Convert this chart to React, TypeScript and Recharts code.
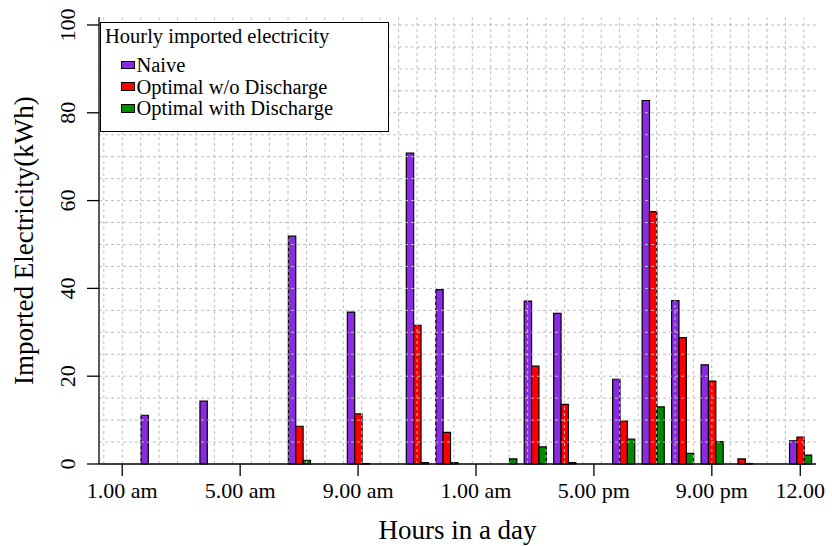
import { Bar, BarChart, Legend, ReferenceLine, XAxis, YAxis } from "recharts";

// hour of the day, 1..24
const hours = [1, 2, 3, 4, 5, 6, 7, 8, 9, 10, 11, 12, 13, 14, 15, 16, 17, 18, 19, 20, 21, 22, 23, 24];
const naive = [0, 11.1, 0, 14.3, 0, 0, 51.9, 0, 34.6, 0, 70.8, 39.7, 0, 0, 37.1, 34.3, 0, 19.3, 82.8, 37.2, 22.6, 0, 0, 5.3];
const optimalNoDischarge = [0, 0, 0, 0, 0, 0, 8.6, 0, 11.4, 0, 31.6, 7.2, 0, 0, 22.3, 13.6, 0, 9.8, 57.5, 28.8, 18.9, 1.15, 0, 6.1];
const optimalWithDischarge = [0, 0, 0, 0, 0, 0, 0.85, 0, 0.1, 0, 0.3, 0.3, 0, 1.15, 3.9, 0.3, 0, 5.7, 13.0, 2.4, 5.1, 0.1, 0, 2.0];

const seriesNames = ["Naive", "Optimal w/o Discharge", "Optimal with Discharge"];
const legendTitle = "Hourly imported electricity";
const tickHours = [1, 5, 9, 13, 17, 21, 24];
const tickLabels = ["1.00 am", "5.00 am", "9.00 am", "1.00 am", "5.00 pm", "9.00 pm", "12.00"];
const yTicks = [0, 20, 40, 60, 80, 100];

const FONT = '"Liberation Serif", "Times New Roman", "DejaVu Serif", serif';
const COLORS = ["#8a2be2", "#ff0000", "#008b00"];
const GRID = "#bdbdbd";
const Y_MAX = 101.75;

const data = hours.map((hour, i) => ({
  hour,
  naive: naive[i],
  noDischarge: optimalNoDischarge[i],
  withDischarge: optimalWithDischarge[i],
}));

// dotted grid like R's grid(): every 5 kWh, and every 0.625 h along x
const yGrid = Array.from({ length: 20 }, (_, k) => 5 * (k + 1));
const xGrid = Array.from({ length: 39 }, (_, k) => 0.375 + 0.625 * k);

function HourTick({ x, y, payload }: any) {
  const i = tickHours.indexOf(payload.value);
  if (i < 0) return <g />;
  return (
    <g>
      <line x1={x} y1={y} x2={x} y2={y + 12} stroke="#000" strokeWidth={1.3} />
      <text x={x} y={y + 34} textAnchor="middle" fontSize={22} fontFamily={FONT} fill="#000">
        {tickLabels[i]}
      </text>
    </g>
  );
}

function ValueTick({ x, y, payload }: any) {
  return (
    <text
      x={x}
      y={y}
      transform={`rotate(-90 ${x} ${y})`}
      textAnchor="middle"
      fontSize={22}
      fontFamily={FONT}
      fill="#000"
    >
      {payload.value}
    </text>
  );
}

const xTitle = (props: any) => {
  const { x, y, width } = props.viewBox;
  return (
    <text x={x + width / 2} y={y + 75} textAnchor="middle" fontSize={27} fontFamily={FONT} fill="#000">
      Hours in a day
    </text>
  );
};

const yTitle = (props: any) => {
  const { x, y, height } = props.viewBox;
  const cx = x + 33;
  const cy = y + height / 2;
  return (
    <text
      x={cx}
      y={cy}
      transform={`rotate(-90 ${cx} ${cy})`}
      textAnchor="middle"
      fontSize={27}
      fontFamily={FONT}
      fill="#000"
    >
      Imported Electricity(kWh)
    </text>
  );
};

function LegendBox() {
  return (
    <div
      style={{
        position: "relative",
        width: 289,
        height: 110,
        boxSizing: "border-box",
        border: "1.3px solid #000",
        background: "#fff",
        fontFamily: FONT,
        fontSize: 20.5,
        lineHeight: "22px",
        color: "#000",
        whiteSpace: "nowrap",
      }}
    >
      <div style={{ position: "absolute", left: 4, top: 2 }}>{legendTitle}</div>
      {seriesNames.map((name, i) => (
        <div
          key={name}
          style={{ position: "absolute", left: 20.4, top: 31 + i * 21.7, display: "flex", alignItems: "center" }}
        >
          <span
            style={{
              display: "inline-block",
              width: 13.3,
              height: 8.5,
              boxSizing: "border-box",
              border: "1px solid #000",
              background: COLORS[i],
              marginRight: 1.7,
            }}
          />
          <span>{name}</span>
        </div>
      ))}
    </div>
  );
}

const axisStroke = { stroke: "#000", strokeWidth: 1.3 };

export default function App() {
  return (
    <div style={{ position: "absolute", left: 0, top: 0, background: "#fff" }}>
      <BarChart
        width={832}
        height={546}
        data={data}
        margin={{ top: 17.3, right: 16, bottom: 22, left: 0 }}
        barSize={7.37}
        barGap={0}
      >
        <XAxis
          dataKey="hour"
          type="category"
          interval={0}
          padding={{ left: 8.5, right: 1 }}
          height={60}
          tickSize={0}
          tickMargin={0}
          tickLine={false}
          axisLine={axisStroke}
          tick={<HourTick />}
          label={xTitle}
        />
        <XAxis xAxisId="grid" dataKey="hour" type="number" domain={[0.5, 24.5]} padding={{ left: 8.5, right: 1 }} hide />
        <XAxis xAxisId="top" orientation="top" dataKey="hour" height={0} tick={false} tickLine={false} axisLine={axisStroke} />
        <YAxis
          domain={[0, Y_MAX]}
          ticks={yTicks}
          width={99}
          tickSize={12}
          tickMargin={12}
          tickLine={axisStroke}
          axisLine={axisStroke}
          tick={<ValueTick />}
          label={yTitle}
        />
        <YAxis yAxisId="right" orientation="right" width={0} tick={false} tickLine={false} axisLine={axisStroke} />
        <Bar dataKey="naive" name={seriesNames[0]} fill={COLORS[0]} stroke="#000" strokeWidth={1.2} isAnimationActive={false} />
        <Bar dataKey="noDischarge" name={seriesNames[1]} fill={COLORS[1]} stroke="#000" strokeWidth={1.2} isAnimationActive={false} />
        <Bar dataKey="withDischarge" name={seriesNames[2]} fill={COLORS[2]} stroke="#000" strokeWidth={1.2} isAnimationActive={false} />
        {yGrid.map((v) => (
          <ReferenceLine key={`h${v}`} y={v} stroke={GRID} strokeDasharray="3 3" ifOverflow="visible" />
        ))}
        {xGrid.map((h) => (
          <ReferenceLine key={`v${h}`} xAxisId="grid" x={h} stroke={GRID} strokeDasharray="3 3" ifOverflow="visible" />
        ))}
        <Legend
          layout="vertical"
          align="center"
          verticalAlign="middle"
          wrapperStyle={{ left: 100, top: 22, width: 289, height: 110 }}
          content={<LegendBox />}
        />
      </BarChart>
    </div>
  );
}
